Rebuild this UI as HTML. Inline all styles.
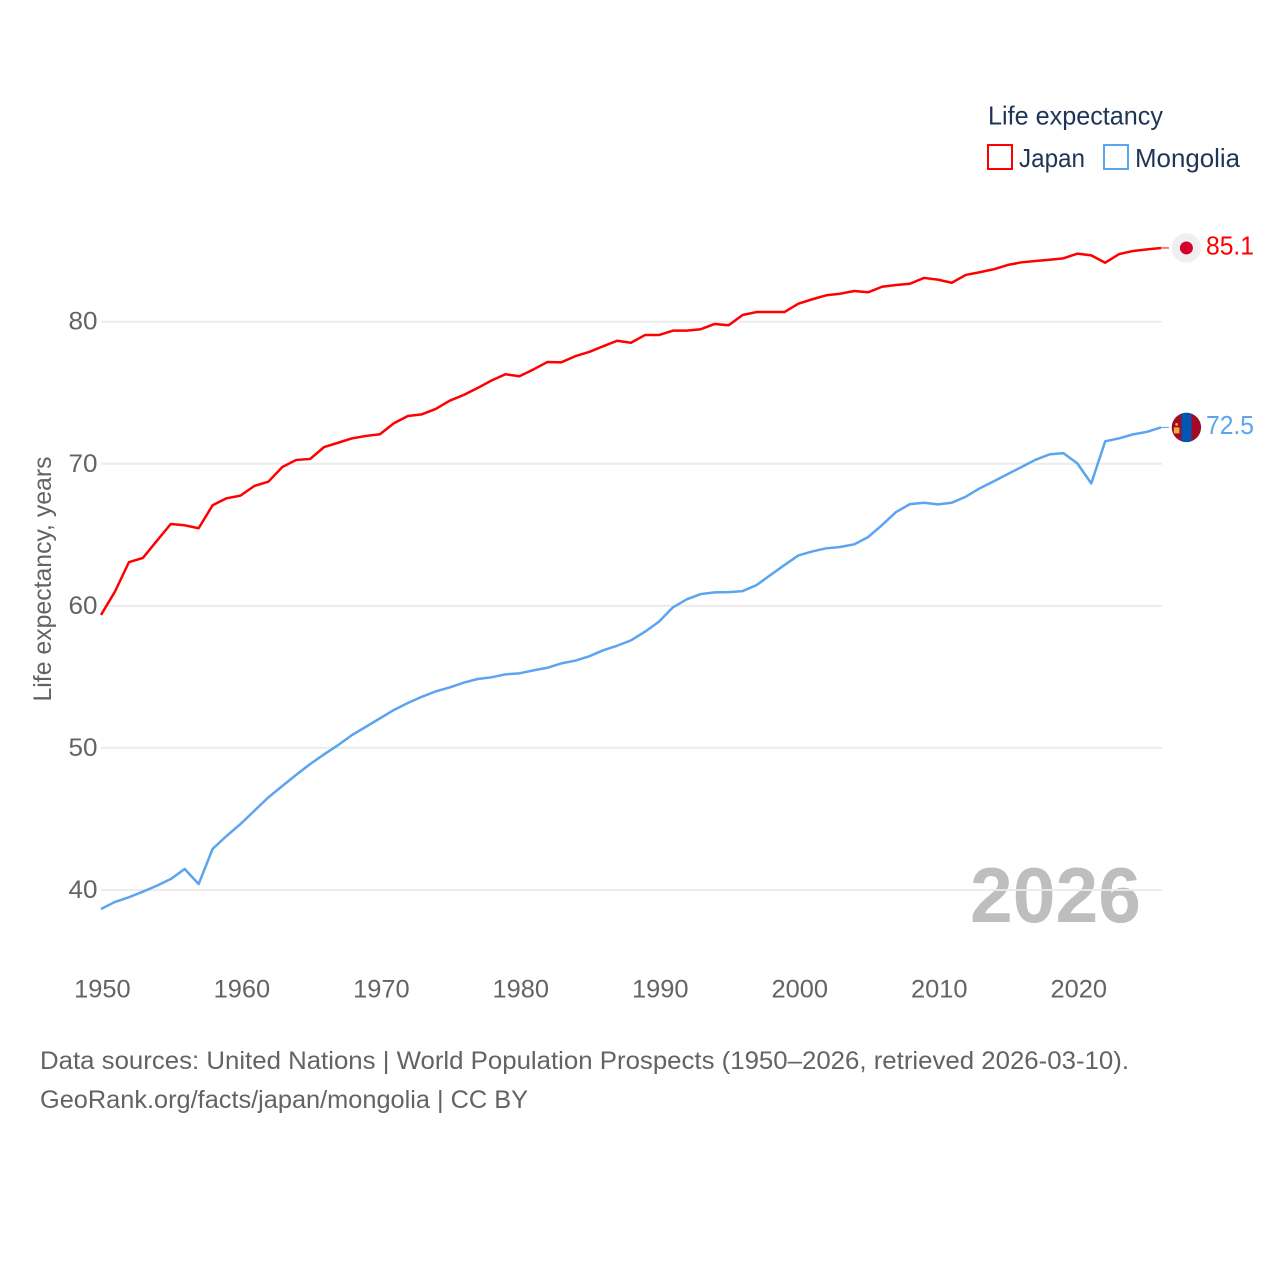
<!DOCTYPE html>
<html>
<head>
<meta charset="utf-8">
<title>Life expectancy: Japan and Mongolia</title>
<style>
html,body{margin:0;padding:0;background:#fff;width:1280px;height:1280px;overflow:hidden}
svg{display:block}
text{font-family:"Liberation Sans",sans-serif}
</style>
</head>
<body>
<svg id="chart" width="1280" height="1280" viewBox="0 0 1280 1280" xmlns="http://www.w3.org/2000/svg">
  <defs>
    <clipPath id="flag-clip"><circle cx="0" cy="0" r="14.7"></circle></clipPath>
  </defs>
  <rect x="0" y="0" width="1280" height="1280" fill="#ffffff"></rect>
  <text x="970" y="922" font-size="78" font-weight="bold" fill="#bebebe" textLength="171" lengthAdjust="spacingAndGlyphs">2026</text>
  <g id="grid"></g>
  <g id="yticks"></g>
  <g id="xticks"></g>
  <text transform="translate(51,579) rotate(-90)" text-anchor="middle" font-size="25" fill="#636363" textLength="245" lengthAdjust="spacingAndGlyphs">Life expectancy, years</text>
  <g id="series"></g>
  <g>
    <text x="988" y="124.5" font-size="26" fill="#1d3557" textLength="175" lengthAdjust="spacingAndGlyphs">Life expectancy</text>
    <g>
      <rect x="988" y="145" width="24" height="24" fill="none" stroke="#ff0000" stroke-width="2"></rect>
      <text x="1019" y="167" font-size="26" fill="#1d3557" textLength="66" lengthAdjust="spacingAndGlyphs">Japan</text>
    </g>
    <g>
      <rect x="1104" y="145" width="24" height="24" fill="none" stroke="#5ba4f0" stroke-width="2"></rect>
      <text x="1135" y="167" font-size="26" fill="#1d3557" textLength="105" lengthAdjust="spacingAndGlyphs">Mongolia</text>
    </g>
  </g>
  <g id="flag-japan">
    <circle r="14.7" fill="#efefef"></circle>
    <circle r="6.5" fill="#d5002b"></circle>
  </g>
  <g id="flag-mongolia">
    <g clip-path="url(#flag-clip)">
      <rect x="-15" y="-15" width="30" height="30" fill="#a20a25"></rect>
      <rect x="-4.9" y="-15" width="10" height="30" fill="#0057b3"></rect>
      <rect x="-12.5" y="0" width="5.5" height="6" fill="#e8b23c"></rect>
      <circle cx="-9.8" cy="-3" r="1.4" fill="#e8b23c"></circle>
    </g>
  </g>
  <g>
    <text x="40" y="1069" font-size="25" fill="#636363" textLength="1089" lengthAdjust="spacingAndGlyphs">Data sources: United Nations | World Population Prospects (1950–2026, retrieved 2026-03-10).</text>
    <text x="40" y="1108" font-size="25" fill="#636363" textLength="488" lengthAdjust="spacingAndGlyphs">GeoRank.org/facts/japan/mongolia | CC BY</text>
  </g>
</svg>
<script>
const years = [1950,1951,1952,1953,1954,1955,1956,1957,1958,1959,1960,1961,1962,1963,1964,1965,1966,1967,1968,1969,1970,1971,1972,1973,1974,1975,1976,1977,1978,1979,1980,1981,1982,1983,1984,1985,1986,1987,1988,1989,1990,1991,1992,1993,1994,1995,1996,1997,1998,1999,2000,2001,2002,2003,2004,2005,2006,2007,2008,2009,2010,2011,2012,2013,2014,2015,2016,2017,2018,2019,2020,2021,2022,2023,2024,2025,2026];
const japanValues = [59.36,61.00,63.07,63.37,64.57,65.76,65.67,65.46,67.08,67.57,67.76,68.44,68.74,69.77,70.27,70.34,71.18,71.48,71.79,71.96,72.08,72.85,73.36,73.48,73.86,74.44,74.84,75.33,75.86,76.30,76.16,76.64,77.16,77.14,77.57,77.87,78.27,78.66,78.52,79.06,79.06,79.37,79.37,79.47,79.84,79.75,80.47,80.68,80.68,80.68,81.27,81.58,81.86,81.97,82.16,82.07,82.46,82.58,82.67,83.08,82.96,82.74,83.29,83.48,83.69,83.99,84.18,84.27,84.36,84.46,84.79,84.67,84.15,84.76,84.98,85.09,85.19];
const mongoliaValues = [38.66,39.16,39.49,39.88,40.30,40.77,41.48,40.42,42.89,43.80,44.64,45.58,46.52,47.32,48.11,48.87,49.55,50.20,50.91,51.49,52.08,52.67,53.16,53.60,53.98,54.26,54.59,54.85,54.97,55.18,55.25,55.46,55.64,55.95,56.14,56.45,56.87,57.19,57.57,58.18,58.88,59.89,60.46,60.83,60.95,60.97,61.04,61.46,62.17,62.87,63.55,63.83,64.05,64.14,64.33,64.84,65.69,66.60,67.16,67.26,67.14,67.26,67.68,68.27,68.76,69.27,69.77,70.28,70.66,70.75,70.03,68.62,71.58,71.79,72.07,72.25,72.56];
const yTickValues = [40,50,60,70,80];
const xTickValues = [1950,1960,1970,1980,1990,2000,2010,2020];
const japanEndLabel = "85.1";
const mongoliaEndLabel = "72.5";

const SVG_NS = "http://www.w3.org/2000/svg";
const plot = {left:101, right:1161, gridRight:1162, top80:321.7, bottom40:890};
function xScale(year){
  const a = years[0], b = years[years.length-1];
  return plot.left + (year-a)/(b-a)*(plot.right-plot.left);
}
function yScale(v){
  return plot.bottom40 - (v-40)/40*(plot.bottom40-plot.top80);
}
function make(tag, attrs){
  const el = document.createElementNS(SVG_NS, tag);
  for (const k in attrs) el.setAttribute(k, attrs[k]);
  return el;
}
const gridG = document.getElementById('grid');
const yG = document.getElementById('yticks');
const xG = document.getElementById('xticks');
const seriesG = document.getElementById('series');

yTickValues.forEach(function(v){
  const line = make('line',{x1:plot.left,x2:plot.gridRight,y1:yScale(v),y2:yScale(v),stroke:'#eaeaea','stroke-opacity':0.9,'stroke-width':2});
  
  
  gridG.appendChild(line);
  const t = make('text',{x:97.5,y:yScale(v)+8,'text-anchor':'end','font-size':25,fill:'#636363',textLength:29,lengthAdjust:'spacingAndGlyphs'});
  
  
  t.textContent = String(v);
  yG.appendChild(t);
});
xTickValues.forEach(function(yr){
  const t = make('text',{x:xScale(yr)+1.4,y:997.5,'text-anchor':'middle','font-size':25,fill:'#636363',textLength:56.5,lengthAdjust:'spacingAndGlyphs'});
  
  
  t.textContent = String(yr);
  xG.appendChild(t);
});

function drawSeries(key, values, color, label, flagId){
  const pts = values.map(function(v,i){ return xScale(years[i]).toFixed(2)+','+yScale(v).toFixed(2); }).join(' ');
  const line = make('polyline',{points:pts,fill:'none',stroke:color,'stroke-width':2.5,'stroke-linejoin':'round'});
  
  
  seriesG.appendChild(line);
  const endY = yScale(values[values.length-1]);
  const conn = make('line',{x1:plot.right,x2:plot.right+8,y1:endY,y2:endY,stroke:color,'stroke-width':1});
  
  
  seriesG.appendChild(conn);
  const t = make('text',{x:1206,y:endY+6.5,'font-size':25.5,fill:color,textLength:48,lengthAdjust:'spacingAndGlyphs'});
  
  
  t.textContent = label;
  seriesG.appendChild(t);
  document.getElementById(flagId).setAttribute('transform','translate(1186.4,'+endY.toFixed(2)+')');
}
drawSeries('japan', japanValues, '#ff0000', japanEndLabel, 'flag-japan');
drawSeries('mongolia', mongoliaValues, '#5ba4f0', mongoliaEndLabel, 'flag-mongolia');
</script>
</body>
</html>
